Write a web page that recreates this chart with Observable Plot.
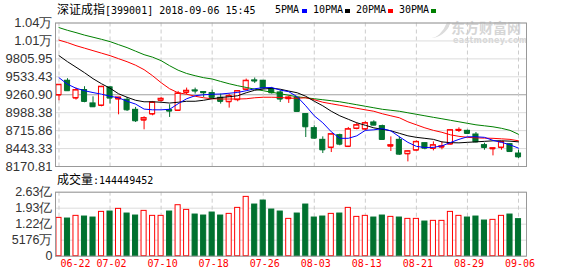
<!DOCTYPE html>
<html><head><meta charset="utf-8">
<script src="https://cdn.jsdelivr.net/npm/d3@7"></script>
<script src="https://cdn.jsdelivr.net/npm/@observablehq/plot@0.6"></script>
<style>
body{margin:0;background:#fff;}
#c{position:relative;width:578px;height:276px;overflow:hidden;background:#fff;}
.abs{position:absolute;white-space:nowrap;line-height:12px;color:#000;}
.cjk{font-family:"Noto Sans CJK SC";font-size:12px;}
.mono{font-family:"DejaVu Sans Mono";font-size:10px;}
.sq{position:absolute;width:5px;height:4px;}
svg{position:absolute;left:0;}
</style></head><body><div id="c"></div>
<script>
// ---- data ----
const dates = ["06-22","06-25","06-26","06-27","06-28","06-29","07-02","07-03","07-04","07-05","07-06","07-09","07-10","07-11","07-12","07-13","07-16","07-17","07-18","07-19","07-20","07-23","07-24","07-25","07-26","07-27","07-30","07-31","08-01","08-02","08-03","08-06","08-07","08-08","08-09","08-10","08-13","08-14","08-15","08-16","08-17","08-20","08-21","08-22","08-23","08-24","08-27","08-28","08-29","08-30","08-31","09-03","09-04","09-05","09-06"];
const open  = [9256,9474,9210,9332,9129,9098,9373,9195,9185,9032,8875,8967,9175,9027,9022,9296,9327,9301,9286,9215,9154,9185,9342,9479,9474,9347,9296,9200,9215,8967,8753,8576,8459,8647,8474,8748,8738,8840,8784,8479,8576,8363,8418,8525,8444,8464,8510,8718,8713,8657,8495,8439,8459,8510,8368];
const high  = [9413,9505,9362,9383,9230,9388,9382,9220,9220,9068,8926,9159,9220,9109,9312,9362,9362,9307,9332,9271,9271,9322,9499,9515,9474,9373,9322,9241,9220,8967,8789,8621,8662,8662,8764,8830,8850,8865,8799,8621,8621,8408,8561,8530,8545,8545,8723,8759,8723,8687,8525,8449,8545,8520,8418];
const low   = [9170,9318,9180,9139,9068,9078,9119,8956,9007,8840,8728,8941,9149,8916,9012,9261,9271,9220,9195,9119,9058,9154,9322,9433,9347,9271,9144,9129,9002,8611,8586,8368,8383,8485,8459,8728,8713,8789,8571,8398,8342,8241,8408,8424,8408,8424,8500,8687,8662,8530,8418,8332,8418,8393,8292];
const close = [9413,9322,9332,9159,9078,9383,9210,9220,9032,8865,8906,9144,9200,9012,9281,9322,9317,9291,9220,9160,9241,9317,9474,9469,9362,9291,9195,9220,9007,8774,8601,8424,8662,8510,8738,8799,8830,8799,8581,8495,8358,8403,8545,8449,8495,8479,8723,8728,8672,8545,8459,8449,8545,8398,8317];
const ma5  = [9520,9421,9360,9322,9294,9269,9238,9215,9162,9119,9043,9032,9032,9040,9124,9200,9246,9261,9269,9272,9284,9296,9322,9352,9368,9371,9332,9307,9230,9093,8941,8835,8698,8599,8599,8637,8720,8728,8746,8713,8622,8538,8477,8459,8462,8484,8535,8583,8622,8622,8614,8568,8538,8500,8450];
const ma10 = [9855,9763,9680,9596,9505,9428,9360,9276,9223,9177,9154,9154,9147,9135,9147,9162,9162,9177,9200,9220,9230,9246,9291,9329,9347,9360,9345,9317,9291,9238,9162,9093,9010,8941,8888,8835,8797,8758,8736,8713,8675,8637,8614,8599,8583,8545,8533,8530,8538,8545,8553,8561,8561,8556,8545];
const ma20 = [10091,10053,10007,9969,9931,9893,9855,9809,9763,9710,9642,9550,9444,9352,9291,9269,9238,9215,9200,9196,9196,9196,9200,9215,9223,9223,9220,9208,9208,9215,9185,9147,9124,9101,9078,9055,9032,9010,8972,8941,8911,8850,8804,8758,8720,8690,8652,8629,8614,8606,8602,8599,8591,8583,8561];
const ma30 = [10281,10240,10205,10167,10135,10103,10068,10022,9977,9923,9870,9832,9779,9702,9634,9584,9550,9520,9500,9463,9428,9398,9372,9345,9322,9299,9276,9253,9230,9215,9200,9185,9170,9154,9132,9109,9086,9063,9040,9025,9010,8987,8964,8941,8918,8896,8873,8850,8827,8804,8789,8774,8751,8720,8660];
// volume, millions of shares
const volume = [150.0,147.1,158.9,155.9,151.5,176.4,177.9,189.6,169.1,160.3,180.8,158.9,158.9,177.9,205.8,185.2,164.7,160.3,173.5,160.3,167.6,194.0,242.4,208.7,226.3,186.7,177.9,145.6,169.1,208.7,151.5,155.9,167.6,169.1,194.0,154.4,158.9,151.5,160.3,154.4,151.5,145.6,145.6,133.9,136.9,136.9,176.4,158.9,151.5,155.9,138.3,141.3,158.9,164.7,144.4];
const priceTicks = [8170.81,8443.33,8715.86,8988.38,9260.90,9533.43,9805.95,10078.47,10351.00];
const priceTickLabels = ["8170.81","8443.33","8715.86","8988.38","9260.90","9533.43","9805.95","1.01万","1.04万"];
// volume axis: five evenly spaced lines, the lowest one (axis floor) is labelled "0" in the source chart
const volTicks = [-18.6,51.8,122.2,192.6,263];
const volTickLabels = ["0","5176万","1.22亿","1.93亿","2.63亿"];
const xTickIdx = [0,6,12,18,24,30,36,42,48,54];

// ---- build ----
const RED = "#ff0000", GREEN = "#00712f";
const rows = dates.map((date,i)=>({i,date,open:open[i],high:high[i],low:low[i],close:close[i],
  ma5:ma5[i],ma10:ma10[i],ma20:ma20[i],ma30:ma30[i],vol:volume[i]}));
const upRows = rows.filter(d=>d.close>=d.open);
const dnRows = rows.filter(d=>d.close<d.open);
const HW = 0.3;
const xScale = {type:"linear", domain:[-0.41,54.94], axis:null};
const priceLabel = new Map(priceTicks.map((v,i)=>[v,priceTickLabels[i]]));
const volLabel = new Map(volTicks.map((v,i)=>[v,volTickLabels[i]]));
const volFloor = volTicks[0];
const W = 578;
const baseStyle = {background:"transparent", fontSize:"13px", fontFamily:"Liberation Sans", color:"#333", overflow:"visible"};

function candleBody(data, fill, stroke){
  return [
    Plot.rect(data,{x1:d=>d.i-HW,x2:d=>d.i+HW,y1:"open",y2:"close",fill,stroke,strokeWidth:1}),
    Plot.ruleY(data,{x1:d=>d.i-HW,x2:d=>d.i+HW,y:"open",stroke,strokeWidth:1}),
    Plot.ruleY(data,{x1:d=>d.i-HW,x2:d=>d.i+HW,y:"close",stroke,strokeWidth:1})
  ];
}

const p1 = Plot.plot({
  width:W, height:170, marginTop:22.5, marginBottom:4, marginLeft:55, marginRight:52,
  x:xScale,
  y:{domain:[8170.81,10351.00]},
  style:baseStyle,
  marks:[
    Plot.ruleY(priceTicks.filter((v,i)=>i!==4),{stroke:"#dcdcdc"}),
    Plot.ruleY([priceTicks[4]],{stroke:"#a0a0a0"}),
    Plot.ruleX(xTickIdx,{stroke:"#cccccc",strokeDasharray:"4,3"}),
    Plot.axisY({ticks:priceTicks,tickFormat:d=>priceLabel.get(d),tickSize:0,tickPadding:3,fontSize:13,fill:"#333",label:null}),
    Plot.ruleX(upRows,{x:"i",y1:"low",y2:"high",stroke:RED,strokeWidth:1}),
    Plot.ruleX(dnRows,{x:"i",y1:"low",y2:"high",stroke:GREEN,strokeWidth:1}),
    ...candleBody(upRows,"white",RED),
    ...candleBody(dnRows,GREEN,GREEN),
    Plot.line(rows,{x:"i",y:"ma30",stroke:"#008000",strokeWidth:1}),
    Plot.line(rows,{x:"i",y:"ma20",stroke:"#ff0000",strokeWidth:1}),
    Plot.line(rows,{x:"i",y:"ma10",stroke:"#000000",strokeWidth:1}),
    Plot.line(rows,{x:"i",y:"ma5",stroke:"#0000ff",strokeWidth:1}),
    Plot.frame({stroke:"#999"})
  ]
});

const p2 = Plot.plot({
  width:W, height:106, marginTop:21.7, marginBottom:20.3, marginLeft:55, marginRight:52,
  x:xScale,
  y:{domain:[volFloor,263]},
  style:baseStyle,
  marks:[
    Plot.ruleY(volTicks,{stroke:"#dcdcdc"}),
    Plot.ruleX(xTickIdx,{stroke:"#cccccc",strokeDasharray:"4,3"}),
    Plot.axisY({ticks:volTicks,tickFormat:d=>volLabel.get(d),tickSize:0,tickPadding:3,fontSize:12.5,fill:"#333",label:null}),
    Plot.rect(upRows,{x1:d=>d.i-HW,x2:d=>d.i+HW,y1:volFloor,y2:"vol",fill:"white",stroke:RED,strokeWidth:1}),
    Plot.rect(dnRows,{x1:d=>d.i-HW,x2:d=>d.i+HW,y1:volFloor,y2:"vol",fill:GREEN,stroke:GREEN,strokeWidth:1}),
    Plot.text([xTickIdx[0]],{x:d=>d,text:d=>dates[d],frameAnchor:"bottom",dy:11,dx:1.5,textAnchor:"start",fill:RED,fontFamily:"DejaVu Sans Mono",fontSize:10}),
    Plot.text(xTickIdx.slice(1),{x:d=>d,text:d=>dates[d],frameAnchor:"bottom",dy:11,dx:1.5,textAnchor:"middle",fill:RED,fontFamily:"DejaVu Sans Mono",fontSize:10}),
    Plot.frame({stroke:"#999"})
  ]
});

const c = document.getElementById("c");
// watermark (behind the chart)
c.insertAdjacentHTML("beforeend",
 `<div style="position:absolute;left:432px;top:22px;width:12px;height:16px;border-right:4px solid #dcdcdc;border-radius:0 0 14px 0;transform:skewX(-20deg)"></div>
  <div class="abs" style="left:451px;top:19px;font-family:'Noto Sans CJK SC';font-weight:bold;font-size:14px;line-height:16px;color:#d6d6d6">东方财富网</div>
  <div class="abs" style="left:453px;top:37px;font-family:'DejaVu Sans';font-weight:bold;font-size:8px;line-height:8px;color:#d6d6d6;letter-spacing:0.3px">eastmoney.com</div>`);
p1.style.top = "0px";
p2.style.top = "170px";
c.appendChild(p1);
c.appendChild(p2);
c.insertAdjacentHTML("beforeend",
 `<div class="abs" style="left:57px;top:3px"><span class="cjk">深证成指</span><span class="mono">[399001] 2018-09-06 15:45</span></div>
  <div class="abs mono" style="left:275px;top:4px">5PMA</div><div class="sq" style="left:302px;top:9px;background:#0000ff"></div>
  <div class="abs mono" style="left:313px;top:4px">10PMA</div><div class="sq" style="left:345px;top:9px;background:#000"></div>
  <div class="abs mono" style="left:356px;top:4px">20PMA</div><div class="sq" style="left:388px;top:9px;background:#ff0000"></div>
  <div class="abs mono" style="left:399px;top:4px">30PMA</div><div class="sq" style="left:431px;top:9px;background:#008000"></div>
  <div class="abs" style="left:57px;top:173px"><span class="cjk">成交量</span><span class="mono">:144449452</span></div>`);
</script>
</body></html>
